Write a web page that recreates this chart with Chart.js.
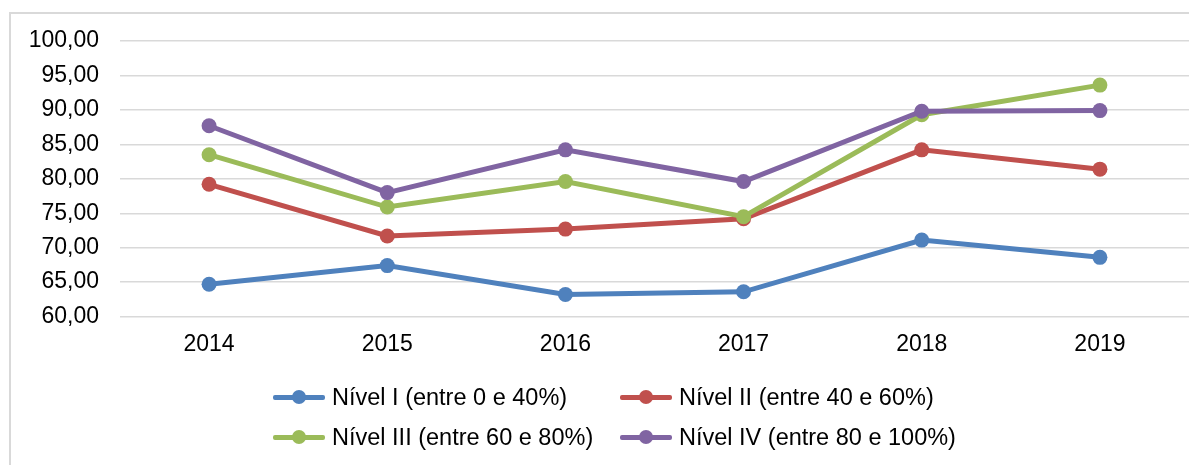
<!DOCTYPE html>
<html>
<head>
<meta charset="utf-8">
<script src="https://cdn.jsdelivr.net/npm/chart.js@4/dist/chart.umd.min.js"></script>
<style>
html,body{margin:0;padding:0;background:#fff;}
#wrap{position:relative;width:1189px;height:465px;overflow:hidden;}
#c{position:absolute;left:0;top:0;}
#legend{position:absolute;left:273px;top:377px;display:grid;grid-template-columns:347px 380px;grid-auto-rows:40px;font-family:'Liberation Sans',Arial,sans-serif;font-size:23.5px;color:#000;}
.item{display:flex;align-items:center;white-space:nowrap;}
.mk{position:relative;width:52px;height:5px;margin-right:7px;border-radius:2px;}
.mk .dot{position:absolute;left:19px;top:-4.5px;width:14px;height:14px;border-radius:50%;}
</style>
</head>
<body>
<div id="wrap">
<canvas id="c" width="1189" height="465"></canvas>
<div id="legend"></div>
</div>
<script>
const categories = ['2014', '2015', '2016', '2017', '2018', '2019'];
const nivelI   = [64.7, 67.4, 63.2, 63.6, 71.1, 68.6];
const nivelII  = [79.2, 71.7, 72.7, 74.2, 84.2, 81.4];
const nivelIII = [83.5, 75.9, 79.6, 74.5, 89.3, 93.6];
const nivelIV  = [87.7, 78.0, 84.2, 79.6, 89.8, 89.9];
const seriesNames = [
  'Nível I (entre 0 e 40%)',
  'Nível II (entre 40 e 60%)',
  'Nível III (entre 60 e 80%)',
  'Nível IV (entre 80 e 100%)'
];
const yMin = 60, yMax = 100, yStep = 5;

const palette = ['#4F81BD', '#C0504D', '#9BBB59', '#8064A2'];
const seriesValues = [nivelI, nivelII, nivelIII, nivelIV];
const FONT = "'Liberation Sans', Arial, sans-serif";

const borderPlugin = {
  id: 'frame',
  beforeDraw(chart) {
    const ctx = chart.ctx;
    ctx.save();
    ctx.strokeStyle = '#d9d9d9';
    ctx.lineWidth = 2;
    ctx.beginPath();
    ctx.moveTo(9, 13);
    ctx.lineTo(1189, 13);
    ctx.moveTo(10, 12);
    ctx.lineTo(10, 465);
    ctx.stroke();
    ctx.restore();
  }
};

const datasets = seriesValues.map((vals, i) => ({
  label: seriesNames[i],
  data: vals,
  borderColor: palette[i],
  backgroundColor: palette[i],
  pointBackgroundColor: palette[i],
  pointBorderColor: palette[i],
  pointBorderWidth: 0,
  pointRadius: 7.5,
  borderWidth: 5,
  tension: 0,
  fill: false,
  order: seriesValues.length - i
}));

const chart = new Chart(document.getElementById('c'), {
  type: 'line',
  data: { labels: categories, datasets },
  plugins: [borderPlugin],
  options: {
    responsive: false,
    animation: false,
    layout: { autoPadding: false, padding: { left: 0, right: 0, top: 41, bottom: 98.4 } },
    plugins: { legend: { display: false }, tooltip: { enabled: false } },
    scales: {
      x: {
        offset: true,
        grid: { display: false, drawTicks: false },
        border: { display: false },
        ticks: { color: '#000', font: { family: FONT, size: 23 }, padding: 14, maxRotation: 0 },
        afterFit(scale) { scale.height = 50; scale.paddingLeft = 0; scale.paddingRight = 0; }
      },
      y: {
        min: yMin, max: yMax,
        grid: { color: '#d9d9d9', lineWidth: 1.5, drawTicks: false },
        border: { display: false },
        ticks: {
          stepSize: yStep,
          color: '#000',
          font: { family: FONT, size: 23 },
          padding: 21,
          callback: v => v.toFixed(2).replace('.', ',')
        },
        afterFit(scale) { scale.width = 120; }
      }
    }
  }
});

const legend = document.getElementById('legend');
chart.data.datasets.forEach(ds => {
  const item = document.createElement('div');
  item.className = 'item';
  const mk = document.createElement('span');
  mk.className = 'mk';
  mk.style.background = ds.borderColor;
  const dot = document.createElement('span');
  dot.className = 'dot';
  dot.style.background = ds.borderColor;
  mk.appendChild(dot);
  const txt = document.createElement('span');
  txt.textContent = ds.label;
  item.appendChild(mk);
  item.appendChild(txt);
  legend.appendChild(item);
});
</script>
</body>
</html>
